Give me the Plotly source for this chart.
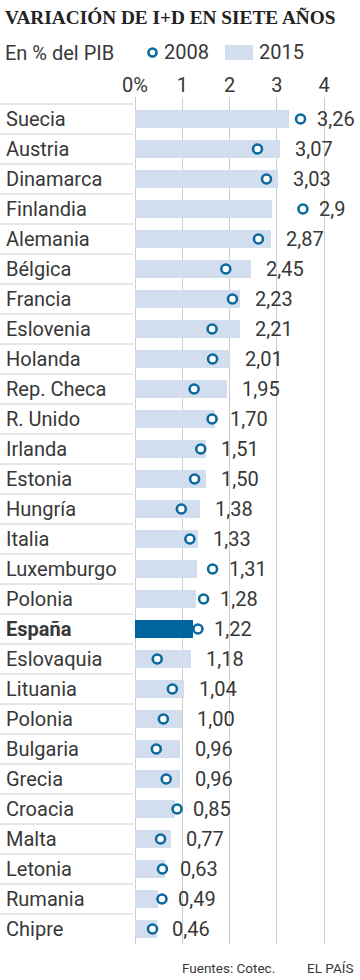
import plotly.graph_objects as go

paises = ["Suecia", "Austria", "Dinamarca", "Finlandia", "Alemania", "Bélgica", "Francia",
          "Eslovenia", "Holanda", "Rep. Checa", "R. Unido", "Irlanda", "Estonia", "Hungría",
          "Italia", "Luxemburgo", "Polonia", "España", "Eslovaquia", "Lituania", "Polonia",
          "Bulgaria", "Grecia", "Croacia", "Malta", "Letonia", "Rumania", "Chipre"]
v2015 = [3.26, 3.07, 3.03, 2.90, 2.87, 2.45, 2.23, 2.21, 2.01, 1.95, 1.70, 1.51, 1.50, 1.38,
         1.33, 1.31, 1.28, 1.22, 1.18, 1.04, 1.00, 0.96, 0.96, 0.85, 0.77, 0.63, 0.49, 0.46]
v2008 = [3.50, 2.59, 2.78, 3.55, 2.61, 1.92, 2.06, 1.63, 1.64, 1.25, 1.63, 1.39, 1.26, 0.98,
         1.16, 1.64, 1.45, 1.33, 0.47, 0.79, 0.60, 0.45, 0.66, 0.89, 0.54, 0.58, 0.57, 0.37]
etiquetas = ["3,26", "3,07", "3,03", "2,9", "2,87", "2,45", "2,23", "2,21", "2,01", "1,95",
             "1,70", "1,51", "1,50", "1,38", "1,33", "1,31", "1,28", "1,22", "1,18", "1,04",
             "1,00", "0,96", "0,96", "0,85", "0,77", "0,63", "0,49", "0,46"]
tick_vals = [0, 1, 2, 3, 4]
tick_text = ["0%", "1", "2", "3", "4"]
destacado = "España"

W, H = 360, 980
ML, MR, MT, MB = 135, 10, 97, 36
PW = W - ML - MR
PH = H - MT - MB
PX_PER_UNIT = 47.3
XMAX = PW / PX_PER_UNIT

def px2x(px):
    return (px - ML) / PW

def py2y(py):
    return 1 - (py - MT) / PH

n = len(paises)
idx = list(range(n))

LIGHT = "#d2deee"
DARK = "#00659c"
RING = "#0a6a9f"
TXT = "#383838"
GRID = "#cccccc"
FONT = "Roboto"
FS = 20

bar_colors = [DARK if p == destacado else LIGHT for p in paises]

fig = go.Figure()
fig.add_trace(go.Bar(
    x=v2015, y=idx, orientation="h", width=0.6,
    marker=dict(color=bar_colors, line=dict(width=0)),
    showlegend=False, hoverinfo="skip"))
fig.add_trace(go.Scatter(
    x=v2008, y=idx, mode="markers",
    marker=dict(symbol="circle", size=9, color="white", line=dict(color=RING, width=2.6)),
    showlegend=False, hoverinfo="skip"))

ann = []
shapes = []
for i, p in enumerate(paises):
    bold = p == destacado
    ann.append(dict(x=px2x(4), y=i, xref="paper", yref="y", text=("<b>%s</b>" % p) if bold else p,
                    showarrow=False, xanchor="left", yanchor="middle",
                    font=dict(family=FONT, size=FS, color=TXT)))
    if v2015[i] >= v2008[i]:
        xv, sh = v2015[i], 13
    else:
        xv, sh = v2008[i], 14
    ann.append(dict(x=xv, y=i, xref="x", yref="y", text=etiquetas[i], showarrow=False,
                    xanchor="left", yanchor="middle", xshift=sh,
                    font=dict(family=FONT, size=FS, color=TXT)))
    shapes.append(dict(type="line", xref="paper", yref="y", x0=px2x(0), x1=px2x(133),
                       y0=i - 0.5, y1=i - 0.5, line=dict(color=GRID, width=1)))

# title, subtitle, legend, footer
ann.append(dict(x=px2x(3), y=py2y(17), xref="paper", yref="paper",
                text="<b>VARIACIÓN DE I+D EN SIETE AÑOS</b>", showarrow=False,
                xanchor="left", yanchor="middle",
                font=dict(family="Liberation Serif", size=19.3, color="#222222")))
ann.append(dict(x=px2x(3), y=py2y(53), xref="paper", yref="paper", text="En % del PIB",
                showarrow=False, xanchor="left", yanchor="middle",
                font=dict(family=FONT, size=FS, color=TXT)))
ann.append(dict(x=px2x(162), y=py2y(52), xref="paper", yref="paper", text="2008",
                showarrow=False, xanchor="left", yanchor="middle",
                font=dict(family=FONT, size=FS, color=TXT)))
ann.append(dict(x=px2x(257), y=py2y(52), xref="paper", yref="paper", text="2015",
                showarrow=False, xanchor="left", yanchor="middle",
                font=dict(family=FONT, size=FS, color=TXT)))
shapes.append(dict(type="circle", xref="paper", yref="paper",
                   x0=px2x(148.5), x1=px2x(156.5), y0=py2y(48.5), y1=py2y(56.5),
                   fillcolor="white", line=dict(color=RING, width=2.6)))
shapes.append(dict(type="rect", xref="paper", yref="paper",
                   x0=px2x(225), x1=px2x(253), y0=py2y(45), y1=py2y(60),
                   fillcolor=LIGHT, line=dict(width=0)))
ann.append(dict(x=px2x(180), y=py2y(968), xref="paper", yref="paper", text="Fuentes: Cotec.",
                showarrow=False, xanchor="left", yanchor="middle",
                font=dict(family=FONT, size=13.5, color=TXT)))
ann.append(dict(x=px2x(305), y=py2y(968), xref="paper", yref="paper", text="EL PAÍS",
                showarrow=False, xanchor="left", yanchor="middle",
                font=dict(family=FONT, size=13.5, color=TXT)))

fig.update_layout(
    width=W, height=H, margin=dict(l=ML, r=MR, t=MT, b=MB),
    paper_bgcolor="white", plot_bgcolor="white",
    annotations=ann, shapes=shapes, bargap=0,
    xaxis=dict(range=[0, XMAX], side="top", tickvals=tick_vals, ticktext=tick_text,
               showgrid=True, gridcolor=GRID, gridwidth=1, zeroline=True, zerolinecolor=GRID,
               zerolinewidth=1, ticks="", showline=False,
               tickfont=dict(family=FONT, size=FS, color=TXT), fixedrange=True),
    yaxis=dict(range=[n - 0.5, -0.5 - 7 / 30], showticklabels=False, showgrid=False,
               zeroline=False, ticks="", fixedrange=True),
)

fig.write_html("out.html", config={"displayModeBar": False},
               post_script="document.body.style.margin='0';document.body.style.overflow='hidden';")
